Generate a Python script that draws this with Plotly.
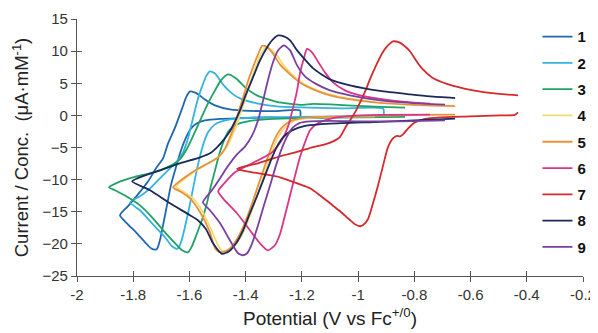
import plotly.graph_objects as go

# ---- data (Potential in V vs Fc+/0, Current/Conc. in uA/mM) ----
labels = ["1", "2", "3", "4", "5", "6", "7", "8", "9"]
colors = ["#2068ae", "#34b3e0", "#1fa264", "#f1dc74", "#e8913c", "#d7368a", "#d42a2e", "#1b2a5c", "#7a3fa0"]

e1 = [-1.207, -1.313, -1.420, -1.491, -1.545, -1.573, -1.594, -1.612, -1.630, -1.648, -1.666, -1.680, -1.694, -1.705, -1.714, -1.720, -1.737, -1.758, -1.790, -1.819, -1.847,
      -1.819, -1.783, -1.747, -1.719, -1.694, -1.676, -1.651, -1.626, -1.612, -1.598, -1.577, -1.545, -1.509, -1.456, -1.385, -1.296, -1.207, -1.207]
i1 = [-0.23, -0.31, -0.44, -0.54, -0.78, -1.24, -2.02, -3.42, -5.44, -8.09, -10.89, -14.00, -17.11, -19.44, -20.68, -20.89, -20.68, -19.75, -18.20, -16.95, -15.55,
      -14.15, -12.29, -10.26, -8.24, -6.69, -4.35, -1.87, 1.09, 2.80, 3.73, 3.50, 2.49, 1.56, 0.93, 0.70, 0.67, 0.78, -0.23]

e2 = [-0.911, -1.064, -1.207, -1.349, -1.420, -1.473, -1.509, -1.534, -1.552, -1.566, -1.580, -1.594, -1.609, -1.623, -1.634, -1.644, -1.662, -1.687, -1.733, -1.776, -1.811,
      -1.776, -1.740, -1.705, -1.669, -1.644, -1.623, -1.605, -1.591, -1.577, -1.566, -1.555, -1.541, -1.527, -1.509, -1.481, -1.449, -1.420, -1.360, -1.289, -1.207, -1.064, -0.911, -0.911]
i2 = [-0.11, -0.16, -0.23, -0.31, -0.47, -0.78, -1.40, -2.64, -4.67, -7.00, -9.80, -12.91, -16.02, -18.66, -20.22, -20.76, -20.37, -18.97, -16.80, -14.77, -13.53,
      -12.60, -11.35, -9.80, -8.24, -7.15, -5.75, -3.58, -1.09, 1.40, 3.11, 4.51, 6.07, 6.84, 6.53, 4.82, 3.42, 2.64, 1.87, 1.40, 1.24, 1.09, 1.04, -0.11]

e3 = [-0.833, -0.993, -1.136, -1.242, -1.331, -1.392, -1.431, -1.459, -1.477, -1.495, -1.509, -1.523, -1.538, -1.552, -1.573, -1.591, -1.605, -1.626, -1.651, -1.687, -1.733, -1.776, -1.819, -1.865, -1.886,
      -1.854, -1.794, -1.733, -1.676, -1.634, -1.612, -1.591, -1.562, -1.534, -1.509, -1.488, -1.463, -1.434, -1.402, -1.360, -1.289, -1.207, -1.160, -1.100, -1.039, -0.922, -0.833]
i3 = [-0.23, -0.31, -0.39, -0.47, -0.62, -0.93, -1.40, -2.33, -3.89, -6.22, -8.55, -10.89, -13.69, -15.86, -18.35, -20.37, -21.31, -21.00, -19.91, -18.20, -15.86, -14.00, -12.75, -11.66, -11.20,
      -10.42, -9.56, -8.94, -8.01, -6.84, -5.44, -3.58, -0.78, 1.87, 3.89, 5.44, 6.38, 5.75, 4.35, 3.11, 2.10, 1.63, 1.79, 1.71, 1.56, 1.32, 1.20]

e4 = [-0.940, -1.100, -1.189, -1.232, -1.260, -1.285, -1.303, -1.324, -1.345, -1.370, -1.395, -1.420, -1.445, -1.466, -1.484, -1.498, -1.520, -1.552, -1.587, -1.623, -1.648,
      -1.605, -1.562, -1.520, -1.491, -1.466, -1.449, -1.434, -1.420, -1.402, -1.385, -1.367, -1.349, -1.335, -1.328, -1.310, -1.289, -1.267, -1.235, -1.196, -1.146, -1.064, -0.940]
i4 = [-0.16, -0.23, -0.47, -0.93, -1.87, -3.42, -5.29, -7.93, -10.73, -13.84, -16.80, -19.13, -20.53, -21.07, -21.07, -20.22, -18.04, -15.09, -12.91, -11.82, -11.12,
      -9.49, -8.16, -7.15, -6.22, -4.82, -3.27, -1.71, 0.16, 2.49, 4.98, 7.15, 9.33, 10.26, 10.58, 10.26, 9.33, 7.93, 6.38, 4.98, 3.89, 2.88, 2.02]

e5 = [-0.655, -0.780, -0.922, -1.100, -1.189, -1.235, -1.267, -1.292, -1.310, -1.331, -1.353, -1.377, -1.402, -1.427, -1.452, -1.473, -1.495, -1.509, -1.527, -1.562, -1.598, -1.634, -1.658,
      -1.616, -1.570, -1.527, -1.498, -1.473, -1.456, -1.441, -1.427, -1.409, -1.392, -1.374, -1.356, -1.342, -1.328, -1.306, -1.278, -1.242, -1.207, -1.160, -1.100, -1.039, -0.922, -0.780, -0.655]
i5 = [0.11, 0.08, -0.05, -0.20, -0.39, -0.78, -1.71, -3.27, -5.13, -7.78, -10.58, -13.69, -16.64, -18.97, -20.53, -21.15, -21.23, -20.68, -18.20, -15.09, -12.91, -11.82, -11.20,
      -9.64, -8.32, -7.31, -6.53, -5.13, -3.42, -1.71, 0.31, 2.80, 5.29, 7.47, 9.49, 10.81, 10.73, 9.80, 7.93, 6.38, 5.13, 4.04, 3.11, 2.57, 1.94, 1.59, 1.45]

e6 = [-0.744, -0.922, -1.029, -1.100, -1.143, -1.171, -1.189, -1.207, -1.224, -1.242, -1.260, -1.278, -1.296, -1.321, -1.349, -1.385, -1.431, -1.481, -1.498,
      -1.473, -1.438, -1.392, -1.349, -1.306, -1.274, -1.249, -1.232, -1.217, -1.207, -1.192, -1.182, -1.164, -1.143, -1.118, -1.089, -1.047, -0.993, -0.922, -0.833, -0.744]
i6 = [0.11, 0.08, -0.08, -0.54, -1.24, -2.33, -4.20, -6.53, -9.33, -12.44, -15.55, -18.51, -20.22, -21.00, -19.91, -17.88, -15.24, -12.91, -11.82,
      -10.42, -8.86, -7.78, -6.84, -5.75, -4.04, -1.71, 1.09, 3.89, 6.53, 9.02, 10.34, 9.80, 8.40, 6.69, 5.13, 3.89, 3.11, 2.57, 2.10, 1.82]

e7 = [-0.431, -0.442, -0.495, -0.602, -0.709, -0.762, -0.798, -0.822, -0.840, -0.851, -0.862, -0.876, -0.894, -0.911, -0.929, -0.947, -0.965, -0.983, -0.993, -1.011, -1.032, -1.064, -1.100, -1.136, -1.171, -1.217, -1.278, -1.331, -1.385, -1.431,
      -1.360, -1.278, -1.217, -1.160, -1.118, -1.089, -1.064, -1.047, -1.029, -1.011, -0.993, -0.975, -0.958, -0.936, -0.915, -0.897, -0.876, -0.858, -0.837, -0.815, -0.794, -0.773, -0.737, -0.684, -0.591, -0.506, -0.431]
i7 = [0.47, 0.08, 0.00, -0.16, -0.31, -0.54, -1.09, -2.02, -2.95, -3.27, -3.19, -3.58, -4.98, -7.78, -10.89, -13.69, -16.17, -17.11, -17.26, -16.95, -16.17, -14.93, -13.69, -12.44, -11.35, -10.58, -9.64, -9.18, -8.79, -8.29,
      -7.51, -6.38, -5.68, -4.93, -4.51, -4.04, -3.34, -2.02, -0.78, 0.47, 2.02, 3.73, 5.60, 7.78, 9.64, 10.73, 11.51, 11.43, 10.89, 9.95, 8.55, 7.31, 5.91, 4.90, 3.89, 3.37, 3.11]

e8 = [-0.655, -0.922, -1.100, -1.189, -1.235, -1.267, -1.292, -1.313, -1.335, -1.360, -1.385, -1.409, -1.434, -1.459, -1.484, -1.516, -1.541, -1.570, -1.598, -1.669, -1.740, -1.804,
      -1.758, -1.705, -1.634, -1.562, -1.527, -1.502, -1.477, -1.456, -1.438, -1.420, -1.399, -1.374, -1.349, -1.324, -1.303, -1.284, -1.264, -1.242, -1.217, -1.196, -1.160, -1.100, -1.029, -0.922, -0.815, -0.744, -0.655]
i8 = [-0.51, -1.01, -1.29, -1.63, -2.33, -3.42, -5.13, -7.31, -9.80, -12.60, -15.24, -17.88, -19.91, -21.15, -21.54, -19.91, -17.73, -16.33, -15.55, -13.69, -11.66, -10.26,
      -9.33, -8.55, -7.47, -6.53, -5.91, -4.98, -3.73, -2.49, -0.93, 0.78, 3.27, 5.91, 8.55, 10.58, 11.82, 12.44, 12.29, 11.66, 10.11, 9.02, 7.31, 5.60, 4.67, 3.81, 3.27, 2.95, 2.69]

e9 = [-0.691, -0.851, -0.993, -1.100, -1.171, -1.207, -1.235, -1.256, -1.274, -1.292, -1.313, -1.335, -1.356, -1.377, -1.395, -1.409, -1.427, -1.456, -1.491, -1.527, -1.552,
      -1.520, -1.491, -1.466, -1.434, -1.402, -1.377, -1.356, -1.338, -1.321, -1.303, -1.285, -1.264, -1.242, -1.217, -1.189, -1.153, -1.100, -1.029, -0.922, -0.815, -0.691]
i9 = [-0.78, -0.93, -0.93, -0.86, -0.93, -1.17, -2.02, -3.58, -5.44, -7.78, -10.89, -13.99, -17.11, -19.91, -21.46, -21.77, -21.46, -19.44, -16.80, -14.77, -13.53,
      -11.66, -9.80, -8.09, -6.22, -4.82, -3.11, -0.78, 2.33, 5.44, 8.24, 10.11, 10.89, 10.11, 7.78, 6.07, 4.98, 3.89, 3.11, 2.33, 1.94, 1.66]

potentials = [e1, e2, e3, e4, e5, e6, e7, e8, e9]
currents = [i1, i2, i3, i4, i5, i6, i7, i8, i9]

x_ticks = [-2, -1.8, -1.6, -1.4, -1.2, -1, -0.8, -0.6, -0.4, -0.2]
x_ticklabels = ["-2", "-1.8", "-1.6", "-1.4", "-1.2", "-1", "-0.8", "-0.6", "-0.4", "-0.2"]
y_ticks = [15, 10, 5, 0, -5, -10, -15, -20, -25]

FONT = "Liberation Sans, Arial, sans-serif"
AX = "#555555"

fig = go.Figure()
for lab, col, ex, iy in zip(labels, colors, potentials, currents):
    fig.add_trace(go.Scatter(
        x=ex, y=iy, mode="lines", name="<b>" + lab + "</b>", legendgroup=lab,
        line=dict(color=col, width=1.8, shape="spline", smoothing=0.6),
    ))

# invisible helper trace so the overlay axes (inner half of crossing ticks) render
fig.add_trace(go.Scatter(x=[None], y=[None], xaxis="x2", yaxis="y2",
                         showlegend=False, hoverinfo="skip"))

axis_common = dict(showgrid=False, zeroline=False, showline=True, linecolor=AX, linewidth=1.2,
                   ticks="outside", ticklen=5, tickwidth=1.2, tickcolor=AX, automargin=False,
                   tickfont=dict(family=FONT, size=15, color="#333333"))

# the page body adds an 8 px offset; the figure is sized so the plot area lands where the reference has it
fig.update_layout(
    width=598, height=325,
    margin=dict(l=69, r=23, t=11, b=57, autoexpand=False),
    paper_bgcolor="white", plot_bgcolor="white",
    font=dict(family=FONT, color="#333333"),
    xaxis=dict(range=[-2, -0.2], tickvals=x_ticks, ticktext=x_ticklabels,
               title=dict(text="Potential (V vs Fc<sup>+/0</sup>)", font=dict(size=19, color="#222222"), standoff=9),
               **axis_common),
    yaxis=dict(range=[-25, 15], tickvals=y_ticks,
               title=dict(text="Current / Conc.  (μA·mM<sup>-1</sup>)", font=dict(size=18.5, color="#222222"), standoff=8),
               **axis_common),
    xaxis2=dict(range=[-2, -0.2], overlaying="x", anchor="y2", side="bottom", tickvals=x_ticks,
                showticklabels=False, showgrid=False, zeroline=False, showline=False, automargin=False,
                ticks="inside", ticklen=5, tickwidth=1.2, tickcolor=AX),
    yaxis2=dict(range=[-25, 15], overlaying="y", anchor="x2", side="left", tickvals=y_ticks,
                showticklabels=False, showgrid=False, zeroline=False, showline=False, automargin=False,
                ticks="inside", ticklen=5, tickwidth=1.2, tickcolor=AX),
    legend=dict(x=0.910, y=0.995, xanchor="left", yanchor="top", bgcolor="rgba(0,0,0,0)",
                font=dict(family=FONT, size=15, color="#111111"), tracegroupgap=3.8,
                itemwidth=30),
    showlegend=True,
)

fig.write_html("out.html")
